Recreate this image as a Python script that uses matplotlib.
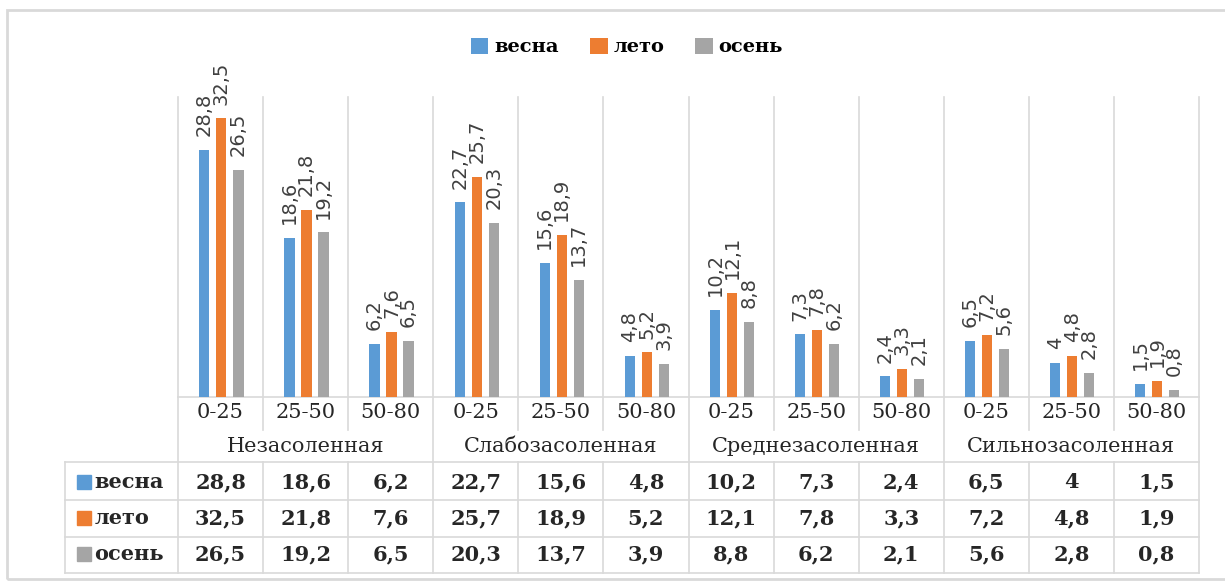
import matplotlib.pyplot as plt
from matplotlib.transforms import blended_transform_factory
from matplotlib.patches import Rectangle

W, H = 1225, 581

groups = ["Незасоленная", "Слабозасоленная", "Среднезасоленная", "Сильнозасоленная"]
depths = ["0-25", "25-50", "50-80"]
seasons = ["весна", "лето", "осень"]
colors = ["#5B9BD5", "#ED7D31", "#A5A5A5"]

vesna = [28.8, 18.6, 6.2, 22.7, 15.6, 4.8, 10.2, 7.3, 2.4, 6.5, 4.0, 1.5]
leto = [32.5, 21.8, 7.6, 25.7, 18.9, 5.2, 12.1, 7.8, 3.3, 7.2, 4.8, 1.9]
osen = [26.5, 19.2, 6.5, 20.3, 13.7, 3.9, 8.8, 6.2, 2.1, 5.6, 2.8, 0.8]
series = [vesna, leto, osen]

GRID = "#D9D9D9"
TXT = "#262626"
SERIF = ["DejaVu Serif"]


def fmt(v):
    s = f"{v:g}"
    return s.replace(".", ",")


def fy(px):
    return 1 - px / H


fig = plt.figure(figsize=(W / 100, H / 100), dpi=100)

# chart frame
fig.patches.append(Rectangle((7 / W, fy(579)), 1.1, (579 - 10) / H, transform=fig.transFigure,
                             fill=False, edgecolor=GRID, linewidth=2))

ax = fig.add_axes([178 / W, fy(397), (1199 - 178) / W, (397 - 97) / H])
ax.set_xlim(0, 12)
ax.set_ylim(0, 35)
ax.axis("off")

n = len(vesna)
offsets = [-0.19, 0.01, 0.21]
for s, vals in enumerate(series):
    xs = [i + 0.5 + offsets[s] for i in range(n)]
    ax.bar(xs, vals, width=0.12, color=colors[s], zorder=3, label=seasons[s])
    for x, v in zip(xs, vals):
        ax.annotate(fmt(v), (x, v), xytext=(0, 10), textcoords="offset points",
                    rotation=90, ha="center", va="bottom", fontsize=14,
                    family="DejaVu Sans", color="#404040", annotation_clip=False, zorder=4)

tr = blended_transform_factory(ax.transData, fig.transFigure)
xl = (65 - 178) / 85.08


def hline(x0, x1, ypx):
    ax.plot([x0, x1], [fy(ypx), fy(ypx)], color=GRID, lw=1.2, transform=tr, clip_on=False, zorder=1)


def vline(x, y0, y1):
    ax.plot([x, x], [fy(y0), fy(y1)], color=GRID, lw=1.2, transform=tr, clip_on=False, zorder=1)


# gridlines, category ticks and table rules
for i in range(n + 1):
    if i % 3 == 0:
        vline(i, 97, 573)
    else:
        vline(i, 97, 430)
        vline(i, 462, 573)
hline(0, 12, 397)
for ypx in [462, 500, 537, 573]:
    hline(xl, 12, ypx)
vline(xl, 462, 573)

# category and group labels
for i in range(n):
    ax.text(i + 0.5, fy(412), depths[i % 3], transform=tr, ha="center", va="center",
            fontsize=15, family=SERIF, color=TXT)
for g, name in enumerate(groups):
    ax.text(3 * g + 1.5, fy(447), name, transform=tr, ha="center", va="center",
            fontsize=15, family=SERIF, color=TXT)

# data table
row_y = [482, 518, 554]
for s, vals in enumerate(series):
    y = fy(row_y[s])
    ax.add_patch(Rectangle((-1.19, y - 7 / H), 0.17, 14 / H, transform=tr,
                           color=colors[s], clip_on=False))
    ax.text(-0.98, y, seasons[s], transform=tr, ha="left", va="center",
            fontsize=15, family=SERIF, fontweight="bold", color=TXT)
    for i, v in enumerate(vals):
        ax.text(i + 0.5, y, fmt(v), transform=tr, ha="center", va="center",
                fontsize=15, family=SERIF, fontweight="bold", color=TXT)

fig.legend(loc="center", bbox_to_anchor=(627 / W, fy(47)), ncol=3, frameon=False,
           handlelength=0.9, handleheight=0.9, handletextpad=0.3, columnspacing=1.6,
           prop={"family": SERIF, "weight": "bold", "size": 14})

fig.savefig("out.png", dpi=100)
